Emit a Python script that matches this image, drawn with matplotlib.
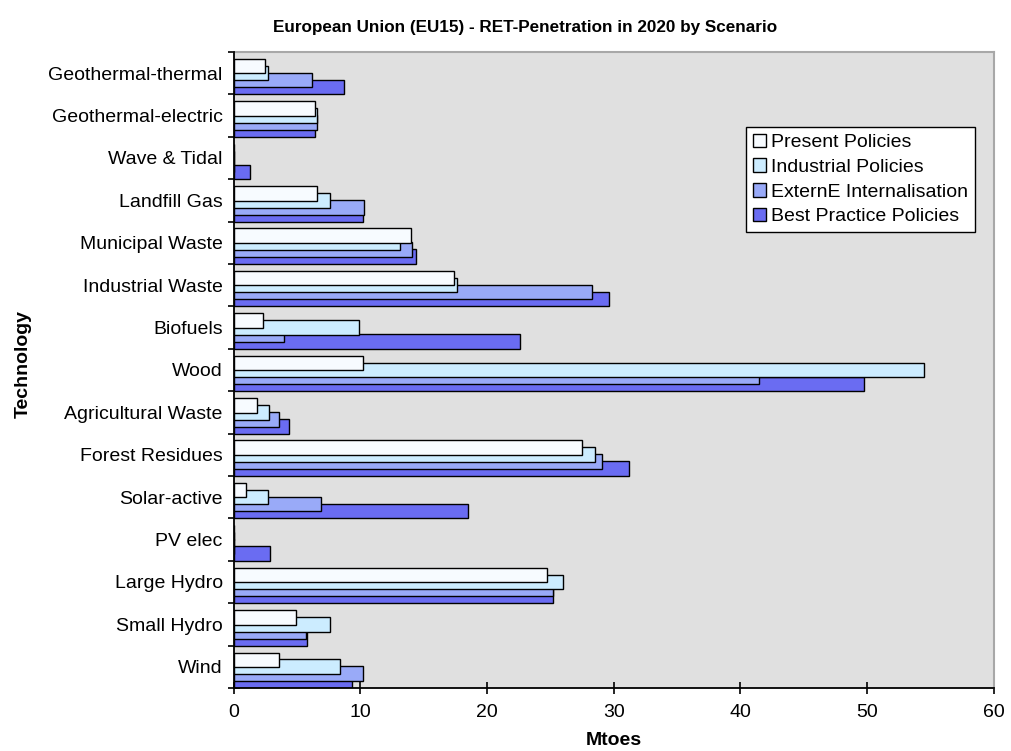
import matplotlib
matplotlib.use("Agg")
import matplotlib.pyplot as plt
from matplotlib.patches import Patch
import numpy as np

plt.rcParams["font.family"] = ["Liberation Sans", "DejaVu Sans"]

# Technologies listed from the bottom of the axis to the top
categories = ["Wind", "Small Hydro", "Large Hydro", "PV elec", "Solar-active",
              "Forest Residues", "Agricultural Waste", "Wood", "Biofuels",
              "Industrial Waste", "Municipal Waste", "Landfill Gas",
              "Wave & Tidal", "Geothermal-electric", "Geothermal-thermal"]

# Penetration in 2020 (Mtoe) per scenario
present = [3.6, 4.9, 24.7, 0.0, 1.0, 27.5, 1.8, 10.2, 2.3, 17.4, 14.0, 6.6, 0.0, 6.45, 2.5]
industrial = [8.4, 7.6, 26.0, 0.0, 2.7, 28.5, 2.75, 54.5, 9.9, 17.6, 13.1, 7.6, 0.0, 6.6, 2.7]
externe = [10.2, 5.7, 25.2, 0.0, 6.9, 29.1, 3.55, 41.5, 4.0, 28.3, 14.1, 10.3, 0.0, 6.55, 6.2]
best = [9.3, 5.8, 25.2, 2.9, 18.5, 31.2, 4.35, 49.8, 22.6, 29.6, 14.4, 10.2, 1.3, 6.45, 8.7]

scenarios = ["Present Policies", "Industrial Policies",
             "ExternE Internalisation", "Best Practice Policies"]
series = [present, industrial, externe, best]
colors = ["#F7FBFF", "#CCECFF", "#99AAF8", "#6A6CF2"]

fig = plt.figure(figsize=(10.11, 7.51), dpi=100)
ax = fig.add_axes([0.2312, 0.0839, 0.9827 - 0.2312, 0.9308 - 0.0839])
ax.set_facecolor("#E0E0E0")

n = len(categories)
base = np.arange(n)
h = 0.342   # bar thickness
d = 0.165   # step between overlapping bars

# Overlapping bars: first scenario sits on top and highest in each group
for k, (vals, col) in enumerate(zip(series, colors)):
    offset = (3 - k) * d
    ax.barh(base + offset, vals, height=h, align="edge", color=col,
            edgecolor="black", linewidth=1.0, zorder=10 - k)

ax.set_xlim(0, 60)
ax.set_ylim(0, n)
ax.set_xticks(np.arange(0, 61, 10))
ax.set_yticks(np.arange(0, n + 1))
ax.set_yticklabels([])
ax.set_yticks(base + 0.5, minor=True)
ax.set_yticklabels(categories, minor=True, fontsize=14)
ax.tick_params(axis="y", which="minor", length=0, pad=8)
ax.tick_params(axis="both", which="major", direction="inout", length=9,
               width=1.2, labelsize=14, color="black")
ax.tick_params(axis="x", pad=7)

for side in ("left", "bottom"):
    ax.spines[side].set_color("black")
    ax.spines[side].set_linewidth(1.3)
    ax.spines[side].set_zorder(20)
for side in ("top", "right"):
    ax.spines[side].set_color("#A8A8A8")
    ax.spines[side].set_linewidth(1.5)

ax.set_xlabel("Mtoes", fontsize=14, fontweight="bold", labelpad=8)
ax.set_ylabel("Technology", fontsize=14, fontweight="bold")
ax.yaxis.set_label_coords(-0.266, 0.51)

fig.text(0.519, 0.963, "European Union (EU15) - RET-Penetration in 2020 by Scenario",
         ha="center", va="center", fontsize=12.3, fontweight="bold")

handles = [Patch(facecolor=c, edgecolor="black", linewidth=1.0) for c in colors]
leg = ax.legend(handles, scenarios, loc="upper left",
                bbox_to_anchor=(0.674, 0.882), fontsize=14, frameon=True,
                fancybox=False, edgecolor="black", framealpha=1,
                handlelength=0.7, handleheight=0.7, handletextpad=0.25,
                labelspacing=0.36, borderpad=0.35, borderaxespad=0)
leg.get_frame().set_linewidth(1.0)
leg.set_zorder(30)

fig.savefig("out.png", dpi=100, facecolor="white")
